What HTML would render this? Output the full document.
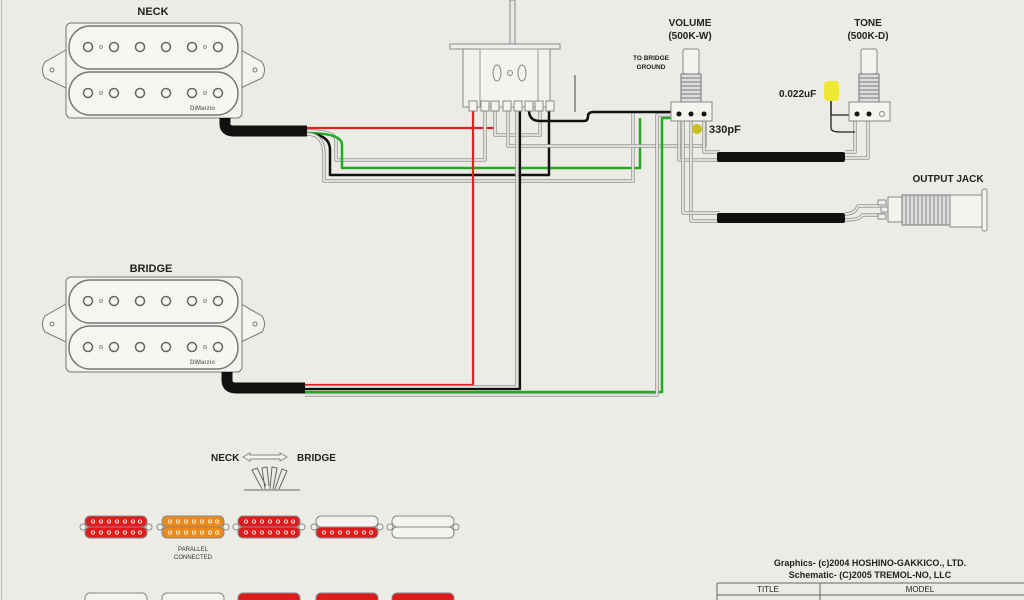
<!DOCTYPE html>
<html><head><meta charset="utf-8"><style>
html,body{margin:0;padding:0;background:#ecebe6;}
svg{display:block;font-family:"Liberation Sans",Arial,sans-serif;}
</style></head><body>
<svg width="1024" height="600" viewBox="0 0 1024 600" xmlns="http://www.w3.org/2000/svg">
<rect width="1024" height="600" fill="#ecebe6"/>
<line x1="1.5" y1="0" x2="1.5" y2="600" stroke="#bbb" stroke-width="1"/>
<defs>
<g id="hb">
  <path d="M66,50 L45,62 Q40,70 45,78 L66,88 Z" fill="#f4f3ef" stroke="#777"/>
  <path d="M241,50 L262,62 Q267,70 262,78 L241,88 Z" fill="#f4f3ef" stroke="#777"/>
  <circle cx="52" cy="70" r="2" fill="none" stroke="#777"/>
  <circle cx="255" cy="70" r="2" fill="none" stroke="#777"/>
  <rect x="66" y="23" width="176" height="95" rx="5" fill="#f4f3ef" stroke="#777"/>
  <rect x="69" y="26" width="169" height="43" rx="21" fill="#f7f6f2" stroke="#777" stroke-width="1.5"/>
  <rect x="69" y="72" width="169" height="43" rx="21" fill="#f7f6f2" stroke="#777" stroke-width="1.5"/>
  <g fill="none" stroke="#666" stroke-width="1.5">
    <circle cx="88" cy="47" r="4.5"/><circle cx="114" cy="47" r="4.5"/><circle cx="140" cy="47" r="4.5"/><circle cx="166" cy="47" r="4.5"/><circle cx="192" cy="47" r="4.5"/><circle cx="218" cy="47" r="4.5"/>
    <circle cx="88" cy="93" r="4.5"/><circle cx="114" cy="93" r="4.5"/><circle cx="140" cy="93" r="4.5"/><circle cx="166" cy="93" r="4.5"/><circle cx="192" cy="93" r="4.5"/><circle cx="218" cy="93" r="4.5"/>
  </g>
  <g fill="none" stroke="#999"><circle cx="101" cy="47" r="1.5"/><circle cx="205" cy="47" r="1.5"/><circle cx="101" cy="93" r="1.5"/><circle cx="205" cy="93" r="1.5"/></g>
  <text x="190" y="110" font-size="6" font-weight="bold" fill="#777">DiMarzio</text>
</g>
<g id="ears">
  <circle cx="-2" cy="11" r="3" fill="#f4f3ef" stroke="#888"/>
  <circle cx="64" cy="11" r="3" fill="#f4f3ef" stroke="#888"/>
</g>
<g id="dots" fill="none" stroke="#fff" stroke-width="0.8">
  <circle cx="8" cy="5.5" r="1.6"/><circle cx="16" cy="5.5" r="1.6"/><circle cx="24" cy="5.5" r="1.6"/><circle cx="32" cy="5.5" r="1.6"/><circle cx="40" cy="5.5" r="1.6"/><circle cx="48" cy="5.5" r="1.6"/><circle cx="55" cy="5.5" r="1.6"/>
</g>
</defs>

<!-- labels -->
<text x="153" y="15" font-size="11" font-weight="bold" text-anchor="middle" fill="#222">NECK</text>
<text x="151" y="272" font-size="11" font-weight="bold" text-anchor="middle" fill="#222">BRIDGE</text>
<use href="#hb"/>
<use href="#hb" y="254"/>

<g fill="none" stroke-linejoin="round">
<path d="M307,128 H495 V110" stroke="#d22" stroke-width="2.2"/>
<path d="M307,131 Q336,131 336,140 V160 H485 V110" stroke="#999" stroke-width="3.5"/><path d="M307,131 Q336,131 336,140 V160 H485 V110" stroke="#f4f4f0" stroke-width="1.5"/>
<path d="M307,133 Q342,133 342,145 V168 H640 V118" stroke="#2a2" stroke-width="2.5"/>
<path d="M307,134 Q330,134 330,150 V175 H549 V110" stroke="#111" stroke-width="2.5"/>
<path d="M307,134 Q324,134 324,155 V181 H633 V113" stroke="#999" stroke-width="3.5"/><path d="M307,134 Q324,134 324,155 V181 H633 V113" stroke="#f4f4f0" stroke-width="1.5"/>
<path d="M495,110 V135 H540 V110" stroke="#999" stroke-width="3.5"/><path d="M495,110 V135 H540 V110" stroke="#f4f4f0" stroke-width="1.5"/>
<path d="M508,110 V146 H705 V118" stroke="#999" stroke-width="3.5"/><path d="M508,110 V146 H705 V118" stroke="#f4f4f0" stroke-width="1.5"/>
<path d="M529,110 Q529,121 540,121 H584 Q588,121 588,116 Q588,112 594,112 H679" stroke="#111" stroke-width="2.5"/>
<path d="M575,112 V75" stroke="#444" stroke-width="1"/>
<path d="M305,385 H473 V110" stroke="#d22" stroke-width="2.2"/>
<path d="M305,387 H517 V110" stroke="#999" stroke-width="3.5"/><path d="M305,387 H517 V110" stroke="#f4f4f0" stroke-width="1.5"/>
<path d="M305,389 H520 V110" stroke="#111" stroke-width="2.2"/>
<path d="M305,392 H662 V118 H679" stroke="#2a2" stroke-width="2.5"/>
<path d="M305,395 H657 V115 H670" stroke="#999" stroke-width="3.5"/><path d="M305,395 H657 V115 H670" stroke="#f4f4f0" stroke-width="1.5"/>
<path d="M679,118 V160 H720" stroke="#999" stroke-width="3.5"/><path d="M679,118 V160 H720" stroke="#f4f4f0" stroke-width="1.5"/>
<path d="M691,118 V221 H720" stroke="#999" stroke-width="3.5"/><path d="M691,118 V221 H720" stroke="#f4f4f0" stroke-width="1.5"/>
<path d="M683,118 V213 H720" stroke="#999" stroke-width="3.5"/><path d="M683,118 V213 H720" stroke="#f4f4f0" stroke-width="1.5"/>
<path d="M704,118 V152 H720" stroke="#999" stroke-width="3.5"/><path d="M704,118 V152 H720" stroke="#f4f4f0" stroke-width="1.5"/>
<path d="M845,152 H855 V114" stroke="#999" stroke-width="3.5"/><path d="M845,152 H855 V114" stroke="#f4f4f0" stroke-width="1.5"/>
<path d="M845,158 H868 V114" stroke="#999" stroke-width="3.5"/><path d="M845,158 H868 V114" stroke="#f4f4f0" stroke-width="1.5"/>
<path d="M831,100 V128 Q831,132 840,132 H855" stroke="#222" stroke-width="1.3"/>
<path d="M831,100 V115 H857" stroke="#222" stroke-width="1.3"/>
<path d="M845,214 Q855,214 858,206 H885" stroke="#999" stroke-width="3.5"/><path d="M845,214 Q855,214 858,206 H885" stroke="#f4f4f0" stroke-width="1.5"/>
<path d="M845,220 Q860,220 862,215 H885" stroke="#999" stroke-width="3.5"/><path d="M845,220 Q860,220 862,215 H885" stroke="#f4f4f0" stroke-width="1.5"/>
</g>
<path d="M225,118 V124 Q225,131 234,131 H307" fill="none" stroke="#111" stroke-width="11"/>
<path d="M227,372 V380 Q227,388 236,388 H305" fill="none" stroke="#111" stroke-width="11"/>
<rect x="717" y="152" width="128" height="10" rx="2" fill="#111"/>
<rect x="717" y="213" width="128" height="10" rx="2" fill="#111"/>

<!-- switch -->
<rect x="510" y="0" width="5" height="45" fill="#e8e8e4" stroke="#888"/>
<rect x="450" y="44" width="110" height="5" fill="#eee" stroke="#888"/>
<rect x="463" y="49" width="87" height="58" fill="#f2f1ed" stroke="#888"/>
<rect x="480" y="49" width="58" height="58" fill="#f4f3ef" stroke="#999"/>
<ellipse cx="497" cy="73" rx="4" ry="8" fill="none" stroke="#888"/>
<ellipse cx="522" cy="73" rx="4" ry="8" fill="none" stroke="#888"/>
<circle cx="510" cy="73" r="2.5" fill="none" stroke="#888"/>
<g fill="#f4f3ef" stroke="#888">
<rect x="469" y="101" width="8" height="10"/><rect x="481" y="101" width="8" height="10"/><rect x="491" y="101" width="8" height="10"/><rect x="503" y="101" width="8" height="10"/><rect x="514" y="101" width="8" height="10"/><rect x="525" y="101" width="8" height="10"/><rect x="535" y="101" width="8" height="10"/><rect x="546" y="101" width="8" height="10"/>
</g>

<!-- volume pot -->
<text x="690" y="26" font-size="10" font-weight="bold" text-anchor="middle" fill="#222">VOLUME</text>
<text x="690" y="39" font-size="10" font-weight="bold" text-anchor="middle" fill="#222">(500K-W)</text>
<text x="651" y="60" font-size="6.5" font-weight="bold" text-anchor="middle" fill="#222">TO BRIDGE</text>
<text x="651" y="69" font-size="6.5" font-weight="bold" text-anchor="middle" fill="#222">GROUND</text>
<rect x="683" y="49" width="16" height="25" rx="2" fill="#f4f3ef" stroke="#888"/>
<rect x="681" y="74" width="20" height="28" fill="#ddd" stroke="#777"/>
<g stroke="#777"><line x1="681" y1="78" x2="701" y2="78"/><line x1="681" y1="82" x2="701" y2="82"/><line x1="681" y1="86" x2="701" y2="86"/><line x1="681" y1="90" x2="701" y2="90"/><line x1="681" y1="94" x2="701" y2="94"/><line x1="681" y1="98" x2="701" y2="98"/></g>
<rect x="671" y="102" width="41" height="19" fill="#f4f3ef" stroke="#888"/>
<circle cx="679" cy="114" r="2.5" fill="#111"/><circle cx="691" cy="114" r="2.5" fill="#111"/><circle cx="704" cy="114" r="2.5" fill="#111"/>
<circle cx="697" cy="129" r="5" fill="#c8c020"/>
<text x="709" y="133" font-size="11" font-weight="bold" fill="#222">330pF</text>

<!-- tone pot -->
<text x="868" y="26" font-size="10" font-weight="bold" text-anchor="middle" fill="#222">TONE</text>
<text x="868" y="39" font-size="10" font-weight="bold" text-anchor="middle" fill="#222">(500K-D)</text>
<rect x="861" y="49" width="16" height="25" rx="2" fill="#f4f3ef" stroke="#888"/>
<rect x="859" y="74" width="20" height="28" fill="#ddd" stroke="#777"/>
<g stroke="#777"><line x1="859" y1="78" x2="879" y2="78"/><line x1="859" y1="82" x2="879" y2="82"/><line x1="859" y1="86" x2="879" y2="86"/><line x1="859" y1="90" x2="879" y2="90"/><line x1="859" y1="94" x2="879" y2="94"/><line x1="859" y1="98" x2="879" y2="98"/></g>
<rect x="849" y="102" width="41" height="19" fill="#f4f3ef" stroke="#888"/>
<circle cx="857" cy="114" r="2.5" fill="#111"/><circle cx="869" cy="114" r="2.5" fill="#111"/><circle cx="882" cy="114" r="2.5" fill="none" stroke="#888"/>
<rect x="824" y="81" width="15" height="20" rx="4" fill="#f0e830"/>
<text x="779" y="97" font-size="10" font-weight="bold" fill="#222">0.022uF</text>

<!-- output jack -->
<text x="948" y="182" font-size="10" font-weight="bold" text-anchor="middle" fill="#222">OUTPUT JACK</text>
<rect x="878" y="200" width="8" height="5" fill="#eee" stroke="#888"/><rect x="881" y="207" width="8" height="5" fill="#eee" stroke="#888"/><rect x="878" y="214" width="8" height="5" fill="#eee" stroke="#888"/>
<rect x="888" y="197" width="14" height="25" fill="#f4f3ef" stroke="#888"/>
<rect x="902" y="195" width="48" height="30" fill="#ddd" stroke="#777"/>
<g stroke="#888"><line x1="906" y1="195" x2="906" y2="225"/><line x1="910" y1="195" x2="910" y2="225"/><line x1="914" y1="195" x2="914" y2="225"/><line x1="918" y1="195" x2="918" y2="225"/><line x1="922" y1="195" x2="922" y2="225"/><line x1="926" y1="195" x2="926" y2="225"/><line x1="930" y1="195" x2="930" y2="225"/><line x1="934" y1="195" x2="934" y2="225"/><line x1="938" y1="195" x2="938" y2="225"/><line x1="942" y1="195" x2="942" y2="225"/><line x1="946" y1="195" x2="946" y2="225"/></g>
<rect x="950" y="195" width="32" height="32" fill="#f4f3ef" stroke="#888"/>
<rect x="982" y="189" width="5" height="42" rx="2" fill="#f4f3ef" stroke="#888"/>

<!-- switch positions -->
<text x="211" y="461" font-size="10" font-weight="bold" fill="#222">NECK</text>
<path d="M243,457 L250,453 V455 H280 V453 L287,457 L280,461 V459 H250 V461 Z" fill="#f4f3ef" stroke="#888"/>
<text x="297" y="461" font-size="10" font-weight="bold" fill="#222">BRIDGE</text>
<g fill="none" stroke="#666" stroke-width="1"><path d="M244,490 H300"/><path d="M262,489 L252,470 L257,468 L266,486"/><path d="M265,489 L262,468 L267,467 L269,486"/><path d="M270,489 L272,467 L277,468 L273,489"/><path d="M275,489 L282,469 L287,471 L279,489"/></g>

<!-- mini pickups row 1 -->
<g transform="translate(85,516)"><use href="#ears"/><rect width="62" height="11" rx="5" fill="#dd1c1c" stroke="#888"/><rect y="11" width="62" height="11" rx="5" fill="#dd1c1c" stroke="#888"/><use href="#dots"/><use href="#dots" y="11"/></g>
<g transform="translate(162,516)"><use href="#ears"/><rect width="62" height="11" rx="5" fill="#ec8a1a" stroke="#888"/><rect y="11" width="62" height="11" rx="5" fill="#ec8a1a" stroke="#888"/><use href="#dots"/><use href="#dots" y="11"/></g>
<g transform="translate(238,516)"><use href="#ears"/><rect width="62" height="11" rx="5" fill="#dd1c1c" stroke="#888"/><rect y="11" width="62" height="11" rx="5" fill="#dd1c1c" stroke="#888"/><use href="#dots"/><use href="#dots" y="11"/></g>
<g transform="translate(316,516)"><use href="#ears"/><rect width="62" height="11" rx="5" fill="#f4f3ef" stroke="#888"/><rect y="11" width="62" height="11" rx="5" fill="#dd1c1c" stroke="#888"/><use href="#dots" y="11"/></g>
<g transform="translate(392,516)"><use href="#ears"/><rect width="62" height="11" rx="5" fill="#f4f3ef" stroke="#888"/><rect y="11" width="62" height="11" rx="5" fill="#f4f3ef" stroke="#888"/></g>
<!-- row 2 -->
<g transform="translate(85,593)"><use href="#ears"/><rect width="62" height="11" rx="5" fill="#f4f3ef" stroke="#888"/></g>
<g transform="translate(162,593)"><use href="#ears"/><rect width="62" height="11" rx="5" fill="#f4f3ef" stroke="#888"/></g>
<g transform="translate(238,593)"><use href="#ears"/><rect width="62" height="11" rx="5" fill="#dd1c1c" stroke="#888"/></g>
<g transform="translate(316,593)"><use href="#ears"/><rect width="62" height="11" rx="5" fill="#dd1c1c" stroke="#888"/></g>
<g transform="translate(392,593)"><use href="#ears"/><rect width="62" height="11" rx="5" fill="#dd1c1c" stroke="#888"/></g>
<text x="193" y="551" font-size="6" text-anchor="middle" fill="#333">PARALLEL</text>
<text x="193" y="559" font-size="6" text-anchor="middle" fill="#333">CONNECTED</text>

<!-- credits -->
<text x="870" y="566" font-size="9" font-weight="bold" text-anchor="middle" fill="#222">Graphics- (c)2004 HOSHINO-GAKKICO., LTD.</text>
<text x="870" y="578" font-size="9" font-weight="bold" text-anchor="middle" fill="#222">Schematic- (C)2005 TREMOL-NO, LLC</text>
<path d="M717,583 H1024 M717,583 V600 M820,583 V600 M717,595 H1024" stroke="#666" fill="none"/>
<text x="768" y="592" font-size="8" text-anchor="middle" fill="#222">TITLE</text>
<text x="920" y="592" font-size="8" text-anchor="middle" fill="#222">MODEL</text>
</svg>
</body></html>
